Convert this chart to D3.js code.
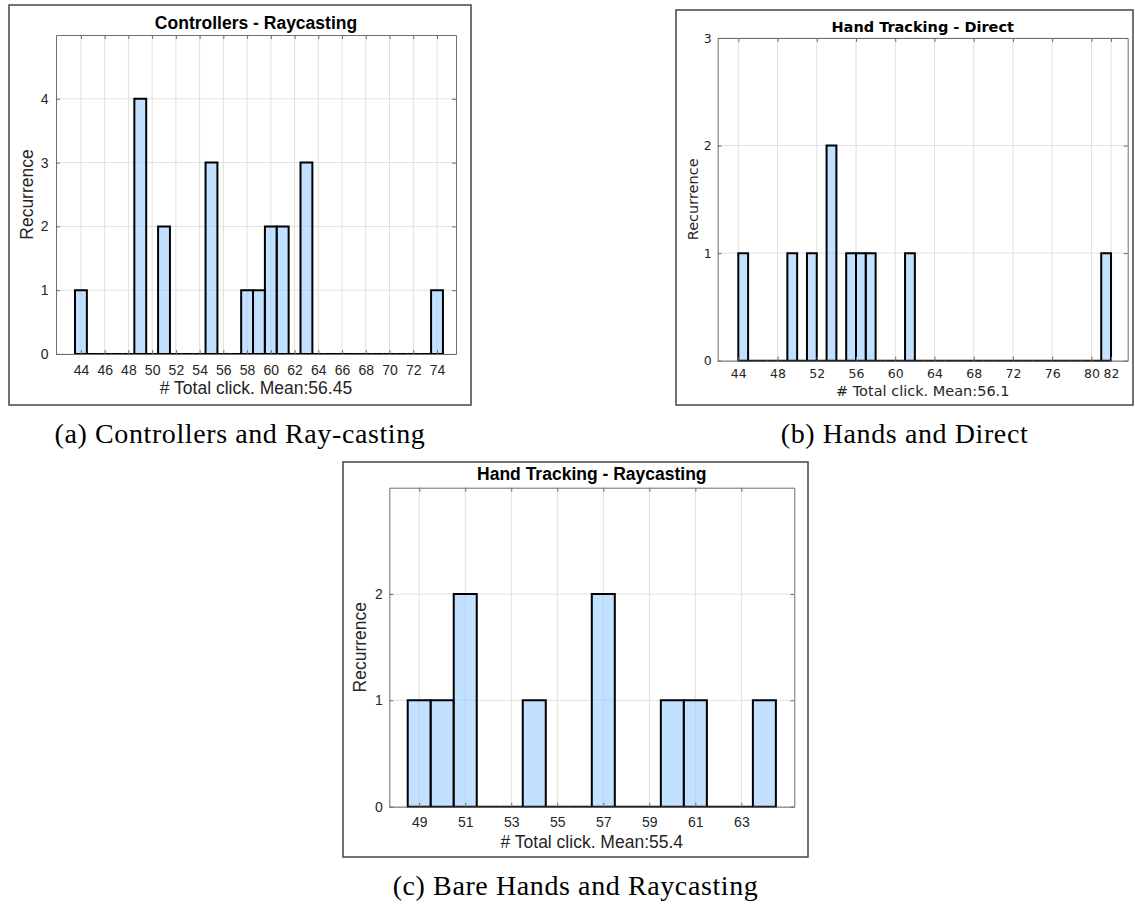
<!DOCTYPE html>
<html>
<head>
<meta charset="utf-8">
<script src="https://cdn.jsdelivr.net/npm/d3@7"></script>
<style>
  body { margin: 0; background: #fff; }
</style>
</head>
<body>
<script>
const WIDTH = 1135;
const HEIGHT = 904;

// (a) Controllers - Raycasting
const BINS_A = [44, 49, 51, 55, 58, 59, 60, 61, 63, 74];
const COUNTS_A = [1, 4, 2, 3, 1, 1, 2, 2, 3, 1];
const XTICKS_A = [44, 46, 48, 50, 52, 54, 56, 58, 60, 62, 64, 66, 68, 70, 72, 74];
const YTICKS_A = [0, 1, 2, 3, 4];

// (b) Hand Tracking - Direct (bins given by left edge)
const BINS_B = [44, 49, 51, 53, 55, 56, 57, 61, 81];
const COUNTS_B = [1, 1, 1, 2, 1, 1, 1, 1, 1];
const XTICKS_B = [44, 48, 52, 56, 60, 64, 68, 72, 76, 80, 82];
const YTICKS_B = [0, 1, 2, 3];

// (c) Hand Tracking - Raycasting
const BINS_C = [49, 50, 51, 54, 57, 60, 61, 64];
const COUNTS_C = [1, 1, 2, 1, 2, 1, 1, 1];
const XTICKS_C = [49, 51, 53, 55, 57, 59, 61, 63];
const YTICKS_C = [0, 1, 2];

const svg = d3.select("body")
  .append("svg")
  .attr("width", WIDTH)
  .attr("height", HEIGHT);

function drawPanel(p) {
  const g = svg.append("g");

  // outer figure frame
  g.append("rect")
    .attr("x", p.frame[0]).attr("y", p.frame[1])
    .attr("width", p.frame[2] - p.frame[0])
    .attr("height", p.frame[3] - p.frame[1])
    .attr("fill", "#fff")
    .attr("stroke", "#444")
    .attr("stroke-width", 1.5);

  const x = d3.scaleLinear().domain(p.xDomain).range([p.left, p.right]);
  const y = d3.scaleLinear().domain(p.yDomain).range([p.bottom, p.top]);

  // grid
  g.append("g").selectAll("line")
    .data(p.xTicks)
    .enter().append("line")
    .attr("x1", d => x(d)).attr("x2", d => x(d))
    .attr("y1", p.top).attr("y2", p.bottom)
    .attr("stroke", "#e0e0e0").attr("stroke-width", 1);
  g.append("g").selectAll("line")
    .data(p.yTicks)
    .enter().append("line")
    .attr("x1", p.left).attr("x2", p.right)
    .attr("y1", d => y(d)).attr("y2", d => y(d))
    .attr("stroke", "#e0e0e0").attr("stroke-width", 1);

  // full set of bins, empty ones included
  const lookup = new Map(p.bins.map((b, i) => [b, p.counts[i]]));
  const allBins = d3.range(d3.min(p.bins), d3.max(p.bins) + 1)
    .map(b => ({ b: b, n: lookup.get(b) || 0 }));

  g.append("g").selectAll("path")
    .data(allBins)
    .enter().append("path")
    .attr("d", d => {
      const x0 = x(d.b + p.offset), x1 = x(d.b + p.offset + 1);
      const y0 = y(0), y1 = y(d.n);
      return `M${x0},${y0}V${y1}H${x1}V${y0}Z`;
    })
    .attr("fill", "rgb(153,204,255)")
    .attr("fill-opacity", 0.6)
    .attr("stroke", "#000")
    .attr("stroke-width", 2)
    .attr("stroke-linejoin", "miter");

  // axes, ticks pointing in
  const axisColor = "#6e6e6e";
  const bottom = g.append("g")
    .attr("transform", `translate(0,${p.bottom})`)
    .call(d3.axisBottom(x).tickValues(p.xTicks).tickFormat(d3.format("d"))
      .tickSizeInner(-4).tickSizeOuter(0).tickPadding(p.xPad));
  const left = g.append("g")
    .attr("transform", `translate(${p.left},0)`)
    .call(d3.axisLeft(y).tickValues(p.yTicks).tickFormat(d3.format("d"))
      .tickSizeInner(-4).tickSizeOuter(0).tickPadding(p.yPad));
  const top = g.append("g")
    .attr("transform", `translate(0,${p.top})`)
    .call(d3.axisTop(x).tickValues(p.xTicks).tickFormat("")
      .tickSizeInner(-4).tickSizeOuter(0));
  const right = g.append("g")
    .attr("transform", `translate(${p.right},0)`)
    .call(d3.axisRight(y).tickValues(p.yTicks).tickFormat("")
      .tickSizeInner(-4).tickSizeOuter(0));

  [bottom, left, top, right].forEach(a => {
    a.select(".domain").attr("stroke", axisColor);
    a.selectAll(".tick line").attr("stroke", axisColor);
    a.selectAll("text")
      .attr("fill", "#262626")
      .style("font-family", p.font)
      .style("font-size", p.tickSize + "px");
  });

  // title and labels
  g.append("text")
    .attr("x", (p.left + p.right) / 2)
    .attr("y", p.titleY)
    .style("font-family", p.font)
    .style("font-size", p.titleSize + "px")
    .style("font-weight", "bold")
    .style("text-anchor", "middle")
    .attr("fill", "#000")
    .text(p.title);

  g.append("text")
    .attr("x", (p.left + p.right) / 2)
    .attr("y", p.xLabelY)
    .style("font-family", p.font)
    .style("font-size", p.labelSize + "px")
    .style("text-anchor", "middle")
    .attr("fill", "#262626")
    .text(p.xLabel);

  g.append("text")
    .attr("transform", `translate(${p.yLabelX},${(p.top + p.bottom) / 2}) rotate(-90)`)
    .style("font-family", p.font)
    .style("font-size", p.labelSize + "px")
    .style("text-anchor", "middle")
    .attr("fill", "#262626")
    .text("Recurrence");

  // subfigure caption
  svg.append("text")
    .attr("x", (p.frame[0] + p.frame[2]) / 2)
    .attr("y", p.captionY)
    .style("font-family", "'Liberation Serif', serif")
    .style("font-size", "28px")
    .style("letter-spacing", "0.6px")
    .style("text-anchor", "middle")
    .attr("fill", "#000")
    .text(p.caption);
}

drawPanel({
  frame: [9, 5, 471, 405],
  left: 56, right: 456, top: 35, bottom: 354,
  xDomain: [41.9, 75.6], yDomain: [0, 5],
  bins: BINS_A, counts: COUNTS_A, offset: -0.5,
  xTicks: XTICKS_A, yTicks: YTICKS_A,
  font: "'Liberation Sans', Arial, sans-serif",
  tickSize: 14, labelSize: 17.5, titleSize: 17.5,
  xPad: 11, yPad: 7.5,
  title: "Controllers - Raycasting", titleY: 29,
  xLabel: "# Total click. Mean:56.45", xLabelY: 394, yLabelX: 33,
  caption: "(a) Controllers and Ray-casting", captionY: 443
});

drawPanel({
  frame: [676, 10, 1133, 405],
  left: 717.7, right: 1127.7, top: 38, bottom: 360.7,
  xDomain: [41.9, 83.7], yDomain: [0, 3],
  bins: BINS_B, counts: COUNTS_B, offset: 0,
  xTicks: XTICKS_B, yTicks: YTICKS_B,
  font: "'DejaVu Sans', sans-serif",
  tickSize: 12.5, labelSize: 14.5, titleSize: 14.5,
  xPad: 8.4, yPad: 6,
  title: "Hand Tracking - Direct", titleY: 32,
  xLabel: "# Total click. Mean:56.1", xLabelY: 396, yLabelX: 698,
  caption: "(b) Hands and Direct", captionY: 443
});

drawPanel({
  frame: [343, 462, 808, 857],
  left: 389.3, right: 794.3, top: 487.7, bottom: 806.7,
  xDomain: [47.7, 65.3], yDomain: [0, 3],
  bins: BINS_C, counts: COUNTS_C, offset: -0.5,
  xTicks: XTICKS_C, yTicks: YTICKS_C,
  font: "'Liberation Sans', Arial, sans-serif",
  tickSize: 14, labelSize: 17.5, titleSize: 17.5,
  xPad: 10, yPad: 6.6,
  title: "Hand Tracking - Raycasting", titleY: 480,
  xLabel: "# Total click. Mean:55.4", xLabelY: 847.7, yLabelX: 366,
  caption: "(c) Bare Hands and Raycasting", captionY: 895
});
</script>
</body>
</html>
